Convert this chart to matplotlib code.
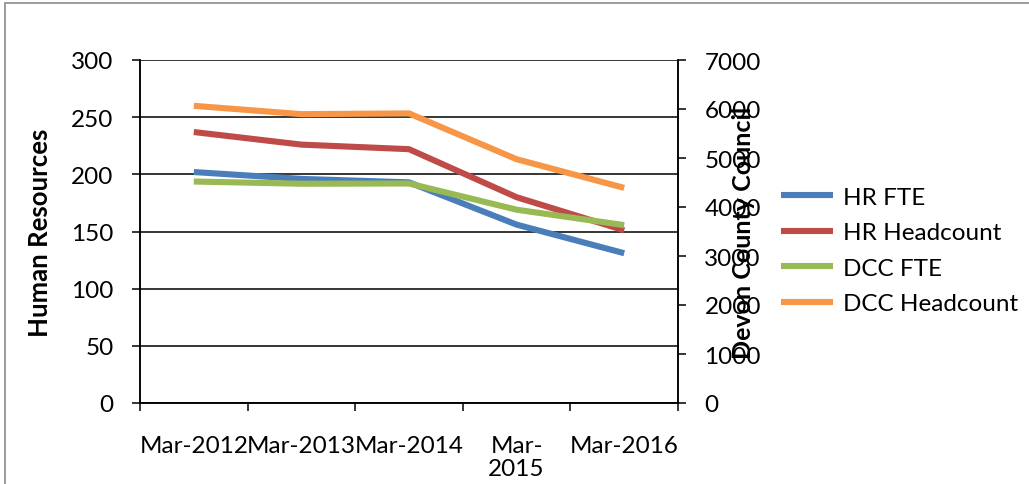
import matplotlib
matplotlib.use('Agg')
import matplotlib.pyplot as plt
from matplotlib.patches import Rectangle
import numpy as np

plt.rcParams['font.family'] = ['Lato', 'DejaVu Sans']

categories = ['Mar-2012', 'Mar-2013', 'Mar-2014', 'Mar-\n2015', 'Mar-2016']
hr_fte = [202, 196, 193, 156, 131]
hr_headcount = [237, 226, 222, 180, 151]
dcc_fte = [4520, 4475, 4480, 3945, 3630]
dcc_headcount = [6065, 5895, 5910, 4975, 4390]
left_ticks = [0, 50, 100, 150, 200, 250, 300]
right_ticks = [0, 1000, 2000, 3000, 4000, 5000, 6000, 7000]

W, H = 1029, 485
fig = plt.figure(figsize=(W / 100, H / 100), dpi=100)
fig.patch.set_facecolor('white')

# outer chart frame (partially cut off)
fig.patches.append(Rectangle((5 / W, -0.2), 2.0, (H - 4) / H + 0.2,
                             transform=fig.transFigure, fill=False,
                             edgecolor='#8c8c8c', linewidth=1.2, zorder=0))

ax = fig.add_axes([140 / W, 1 - 404 / H, (678 - 140) / W, (404 - 61) / H])
ax2 = ax.twinx()

x = np.arange(len(categories))
lw = 4.4
c_blue, c_red, c_green, c_orange = '#4a7ebb', '#be4b48', '#98b954', '#f79646'

l1, = ax.plot(x, hr_fte, color=c_blue, lw=lw, solid_capstyle='butt', label='HR FTE', zorder=3)
l2, = ax.plot(x, hr_headcount, color=c_red, lw=lw, solid_capstyle='butt', label='HR Headcount', zorder=3)
l3, = ax2.plot(x, dcc_fte, color=c_green, lw=lw, solid_capstyle='butt', label='DCC FTE', zorder=3)
l4, = ax2.plot(x, dcc_headcount, color=c_orange, lw=lw, solid_capstyle='butt', label='DCC Headcount', zorder=3)

ax.set_xlim(-0.5, len(categories) - 0.5)
ax.set_ylim(0, 300)
ax2.set_ylim(0, 7000)
ax.set_yticks(left_ticks)
ax2.set_yticks(right_ticks)

fs = 17.5
ax.set_xticks(np.arange(len(categories) + 1) - 0.5)
ax.set_xticklabels([])
ax.set_xticks(x, minor=True)
ax.set_xticklabels(categories, minor=True, fontsize=fs, linespacing=1.1)
ax.tick_params(axis='x', which='major', direction='out', length=6, width=1.1, color='black')
ax.tick_params(axis='x', which='minor', length=0, pad=23)
ax.tick_params(axis='y', direction='out', length=6, width=1.1, labelsize=fs, pad=13)
ax2.tick_params(axis='y', direction='out', length=6, width=1.1, labelsize=fs, pad=13)

ax.yaxis.grid(True, color='black', linewidth=1.1)
ax.set_axisbelow(True)
for a in (ax, ax2):
    a.spines['top'].set_visible(False)
    for sp in a.spines.values():
        sp.set_linewidth(1.1)
        sp.set_color('black')

ax.set_ylabel('Human Resources', fontsize=18.5, fontweight='bold')
ax.yaxis.set_label_coords(-0.163, 0.5)
ax2.set_ylabel('Devon County Council', fontsize=18, fontweight='bold')
ax2.yaxis.set_label_coords(1.10, 0.5)

fig.legend(handles=[l1, l2, l3, l4], loc='center left',
           bbox_to_anchor=(781 / W, 1 - 251.5 / H), frameon=False,
           fontsize=fs, handlelength=2.15, handletextpad=0.4,
           labelspacing=0.6, borderpad=0, borderaxespad=0)

fig.savefig('out.png', dpi=100)
